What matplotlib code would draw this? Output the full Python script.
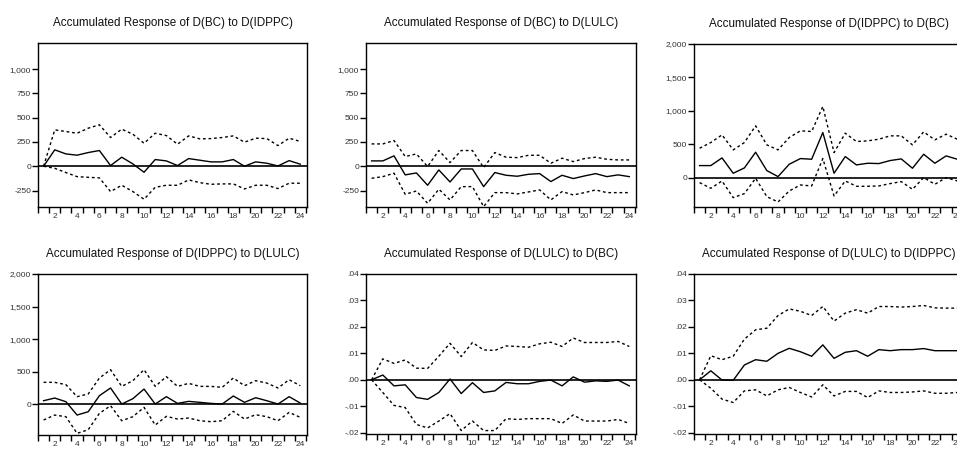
import matplotlib.pyplot as plt
from matplotlib.ticker import FixedLocator, FuncFormatter

plt.rcParams['font.family'] = ['Liberation Sans', 'DejaVu Sans']

periods = list(range(1, 25))

# D(BC) to D(IDPPC)
bc_idppc = [0, 169, 127, 114, 141, 162, 7, 93, 24, -62, 69, 55, 7, 79, 62, 45, 45, 69, 0, 45, 31, 3, 58, 21]
bc_idppc_hi = [0, 375, 358, 340, 392, 427, 296, 382, 330, 237, 340, 316, 227, 313, 282, 285, 296, 313, 248, 289, 285, 213, 289, 255]
bc_idppc_lo = [0, -21, -65, -107, -114, -120, -261, -196, -261, -340, -217, -196, -196, -141, -169, -186, -182, -182, -234, -196, -196, -230, -175, -175]

# D(BC) to D(LULC)
bc_lulc = [55, 55, 107, -89, -69, -196, -38, -162, -28, -28, -210, -65, -93, -103, -83, -76, -158, -93, -127, -100, -76, -107, -89, -107]
bc_lulc_hi = [230, 230, 265, 100, 127, -3, 162, 38, 162, 162, -14, 141, 93, 89, 113, 113, 31, 83, 48, 79, 93, 72, 65, 65]
bc_lulc_lo = [-124, -107, -72, -289, -255, -382, -237, -347, -210, -210, -416, -272, -272, -285, -265, -244, -347, -261, -296, -272, -244, -272, -272, -272]

# D(IDPPC) to D(BC)
idppc_bc = [180, 180, 295, 65, 145, 380, 105, 15, 200, 285, 275, 675, 65, 315, 190, 215, 210, 255, 280, 140, 350, 215, 325, 275]
idppc_bc_hi = [440, 525, 640, 415, 525, 775, 490, 415, 600, 700, 690, 1065, 375, 665, 540, 550, 575, 625, 625, 490, 685, 565, 650, 575]
idppc_bc_lo = [-75, -160, -50, -300, -240, -10, -285, -365, -200, -110, -125, 285, -275, -50, -130, -130, -125, -90, -60, -175, 0, -100, 0, -50]

# D(IDPPC) to D(LULC)
idppc_lulc = [56, 97, 41, -164, -113, 133, 251, 5, 87, 235, 5, 118, 15, 46, 31, 15, 5, 128, 31, 102, 56, 5, 118, 20]
idppc_lulc_hi = [338, 338, 302, 118, 159, 404, 532, 276, 363, 532, 276, 425, 276, 322, 276, 276, 261, 404, 286, 363, 327, 251, 378, 286]
idppc_lulc_lo = [-240, -164, -189, -445, -389, -138, -20, -251, -189, -46, -317, -184, -225, -210, -251, -266, -251, -107, -225, -159, -189, -251, -123, -200]

# D(LULC) to D(BC)
lulc_bc = [0, .0018, -.0023, -.0019, -.0067, -.0074, -.0048, .0003, -.0052, -.0011, -.0048, -.0042, -.0010, -.0015, -.0015, -.0006, -.0001, -.0023, .0011, -.0009, -.0004, -.0006, -.0001, -.0023]
lulc_bc_hi = [0, .0079, .0062, .0075, .0044, .0043, .0089, .0138, .0088, .0141, .0113, .0111, .0128, .0126, .0123, .0136, .0142, .0126, .0158, .0141, .0141, .0141, .0145, .0126]
lulc_bc_lo = [0, -.0048, -.0097, -.0105, -.0169, -.0182, -.0156, -.0128, -.0192, -.0156, -.0192, -.0192, -.0147, -.0150, -.0147, -.0147, -.0147, -.0165, -.0133, -.0156, -.0156, -.0156, -.0150, -.0165]

# D(LULC) to D(IDPPC)
lulc_idppc = [0, .0034, -.0001, -.0002, .0056, .0076, .0070, .0100, .0119, .0106, .0089, .0132, .0081, .0104, .0110, .0089, .0114, .0110, .0114, .0114, .0118, .0110, .0110, .0110]
lulc_idppc_hi = [0, .0091, .0076, .0089, .0154, .0189, .0195, .0243, .0268, .0259, .0243, .0277, .0222, .0252, .0265, .0252, .0277, .0277, .0275, .0277, .0281, .0272, .0271, .0271]
lulc_idppc_lo = [0, -.0032, -.0073, -.0086, -.0042, -.0038, -.0061, -.0038, -.0029, -.0048, -.0065, -.0019, -.0061, -.0044, -.0044, -.0067, -.0042, -.0048, -.0048, -.0046, -.0042, -.0051, -.0051, -.0048]

titles = [
    'Accumulated Response of D(BC) to D(IDPPC)',
    'Accumulated Response of D(BC) to D(LULC)',
    'Accumulated Response of D(IDPPC) to D(BC)',
    'Accumulated Response of D(IDPPC) to D(LULC)',
    'Accumulated Response of D(LULC) to D(BC)',
    'Accumulated Response of D(LULC) to D(IDPPC)',
]
series = [
    (bc_idppc, bc_idppc_hi, bc_idppc_lo),
    (bc_lulc, bc_lulc_hi, bc_lulc_lo),
    (idppc_bc, idppc_bc_hi, idppc_bc_lo),
    (idppc_lulc, idppc_lulc_hi, idppc_lulc_lo),
    (lulc_bc, lulc_bc_hi, lulc_bc_lo),
    (lulc_idppc, lulc_idppc_hi, lulc_idppc_lo),
]


def fmt_big(v, pos):
    return '{:,.0f}'.format(v)


def fmt_small(v, pos):
    s = '{:.2f}'.format(v)
    return s.replace('0.', '.', 1)


big_ticks = [-250, 0, 250, 500, 750, 1000]
mid_ticks = [0, 500, 1000, 1500, 2000]
small_ticks = [-.02, -.01, 0, .01, .02, .03, .04]
scales = [
    (big_ticks, (-420, 1270), fmt_big),
    (big_ticks, (-420, 1270), fmt_big),
    (mid_ticks, (-440, 2000), fmt_big),
    (mid_ticks, (-470, 2000), fmt_big),
    (small_ticks, (-0.0205, 0.04), fmt_small),
    (small_ticks, (-0.0205, 0.04), fmt_small),
]

# axes boxes in pixels: left, top, right, bottom
boxes = [
    (38, 43, 307, 207), (366, 43, 636, 207), (694, 44, 964, 207),
    (38, 274, 307, 435), (366, 274, 636, 434), (694, 274, 964, 434),
]

W, H = 957, 450
fig = plt.figure(figsize=(W / 100, H / 100), dpi=100)

for i in range(6):
    l, t, r, b = boxes[i]
    ax = fig.add_axes([l / W, 1 - b / H, (r - l) / W, (b - t) / H])
    resp, hi, lo = series[i]
    ticks, lim, fmt = scales[i]

    ax.axhline(0, color='black', lw=1.2, zorder=1)
    ax.plot(periods, resp, color='black', lw=1.0, zorder=3)
    ax.plot(periods, hi, color='black', lw=1.0, ls=(0, (2, 2)), zorder=2)
    ax.plot(periods, lo, color='black', lw=1.0, ls=(0, (2, 2)), zorder=2)

    ax.set_xlim(0.5, 24.6)
    ax.set_ylim(*lim)
    ax.set_title(titles[i], fontsize=8.4, pad=12, color='#111111')

    ax.xaxis.set_major_locator(FixedLocator(range(2, 25, 2)))
    ax.xaxis.set_minor_locator(FixedLocator([p + 0.5 for p in range(0, 25)]))
    ax.tick_params(axis='x', which='major', length=0, labelsize=6, pad=4, labelcolor='#333333')
    ax.tick_params(axis='x', which='minor', length=4, width=1, direction='out')
    ax.yaxis.set_major_locator(FixedLocator(ticks))
    ax.yaxis.set_major_formatter(FuncFormatter(fmt))
    ax.tick_params(axis='y', length=4, width=1, direction='out', labelsize=6, pad=1, labelcolor='#333333')

    for s in ax.spines.values():
        s.set_linewidth(1.0)

plt.savefig('out.png', dpi=100)
